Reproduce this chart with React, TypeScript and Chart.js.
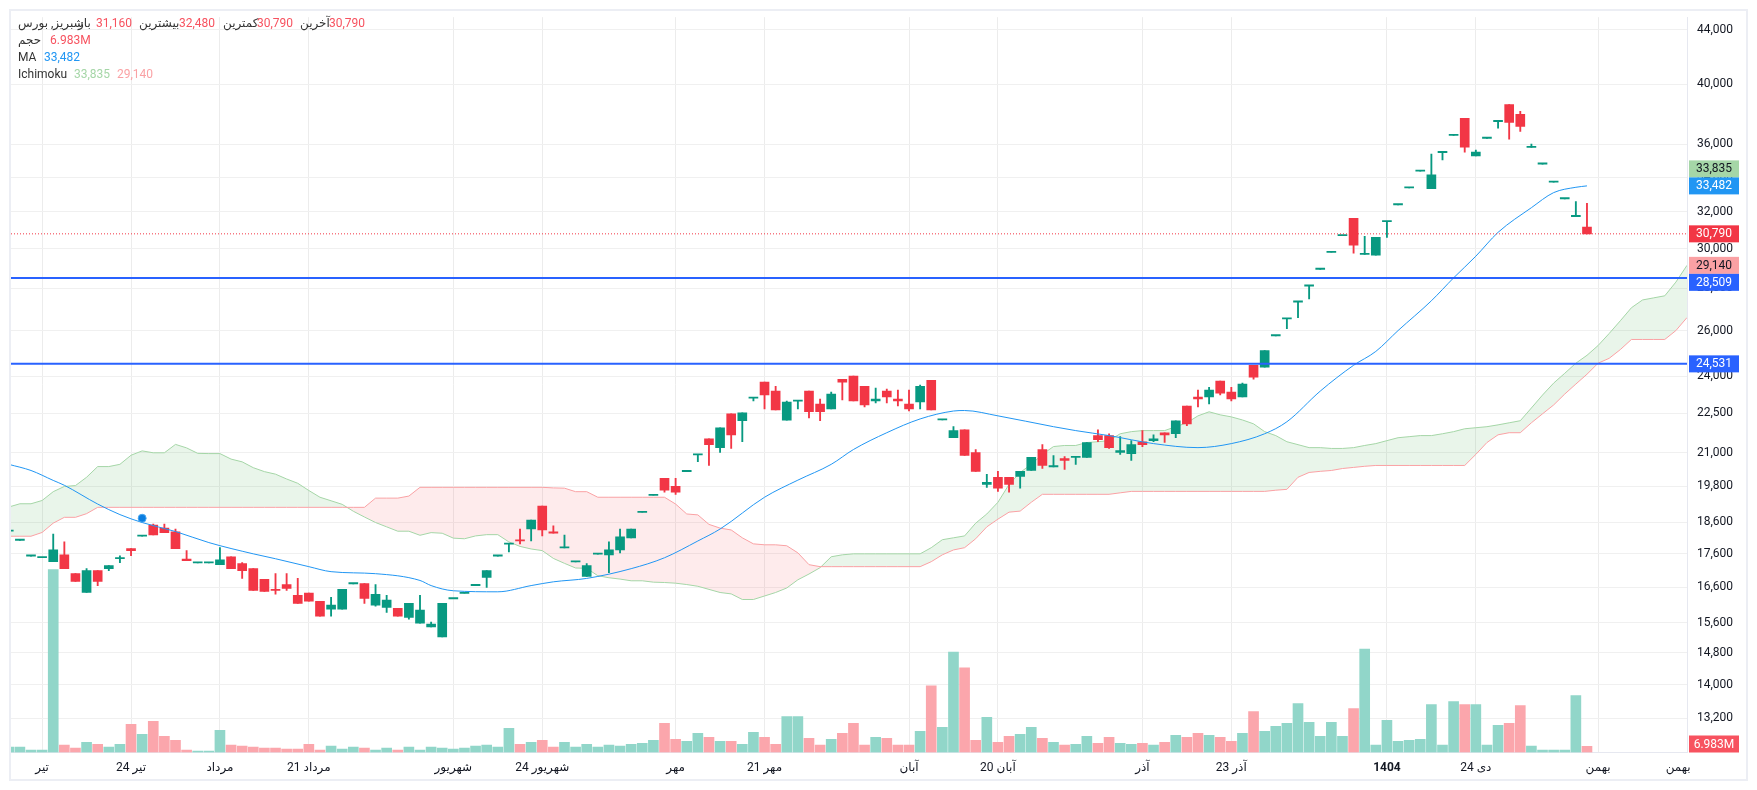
import React, { useEffect, useRef } from "react";
import { Chart, registerables } from "chart.js";

Chart.register(...registerables);

const opens = [
  18310, 18020, 17530, 17480, 17360, 17570, 17000, 16450, 17090, 17150,
  17450, 17760, 18150, 18510, 18410, 18290, 17440, 17320, 17320, 17270,
  17510, 17300, 17150, 16830, 16520, 16680, 16370, 16430, 16200, 15980,
  15980, 16700, 16710, 16090, 16030, 16000, 15750, 15590, 15490, 15220,
  16270, 16420, 16650, 16890, 17530, 17900, 18010, 18380, 19130, 18260,
  17780, 17350, 16920, 17590, 17570, 17720, 18100, 18920, 19490, 20080,
  19800, 20320, 20920, 21520, 21190, 22480, 22210, 23100, 23760, 23390,
  22230, 22980, 23390, 22870, 22670, 23880, 24010, 23590, 22990, 23390,
  23070, 22870, 22950, 23840, 22240, 21560, 21860, 21010, 19870, 20120,
  20120, 20150, 20360, 21120, 20490, 20790, 20830, 20830, 21640, 21640,
  21010, 20970, 21410, 21450, 21750, 21710, 22790, 23150, 23150, 23800,
  23350, 23150, 24470, 24390, 25760, 26530, 27330, 28100, 28940, 29800,
  30690, 31630, 29700, 29660, 31450, 32390, 33360, 34350, 33320, 35480,
  36570, 37680, 35280, 36380, 37460, 38600, 37940, 35810, 34780, 33700,
  32730, 31730, 31160,
];
const highs = [
  18310, 18020, 17530, 17480, 18220, 17970, 17000, 17150, 17090, 17240,
  17540, 17760, 18150, 18540, 18540, 18380, 17700, 17320, 17320, 17790,
  17510, 17330, 17150, 16830, 17000, 17000, 16860, 16430, 16200, 16310,
  16540, 16700, 16710, 16680, 16370, 16000, 16140, 16370, 15620, 16140,
  16270, 16420, 16650, 17090, 17530, 17900, 18380, 18670, 19130, 18480,
  18190, 17350, 17300, 17590, 17970, 18380, 18380, 18920, 19490, 20080,
  20080, 20320, 20920, 21520, 21940, 22480, 22520, 23100, 23760, 23590,
  22990, 22980, 23390, 23070, 23350, 23880, 24010, 23590, 23510, 23470,
  23430, 23430, 23640, 23840, 22240, 21980, 21860, 21120, 20220, 20330,
  20120, 20330, 20830, 21300, 20900, 20860, 20830, 21380, 21860, 21710,
  21600, 21450, 21830, 21670, 21750, 22210, 22790, 23430, 23550, 23800,
  23550, 23720, 24470, 25110, 25760, 26530, 27330, 28100, 28940, 29800,
  30690, 31630, 30660, 30600, 31450, 32390, 33360, 34350, 35400, 35570,
  36570, 37680, 35650, 36380, 37460, 38600, 38140, 36020, 34780, 33700,
  32730, 32570, 32480,
];
const lows = [
  18310, 18020, 17530, 17480, 17360, 17150, 16770, 16450, 16650, 17090,
  17330, 17540, 18150, 18190, 18260, 17760, 17390, 17320, 17320, 17270,
  17150, 16860, 16510, 16480, 16400, 16510, 16140, 16200, 15780, 15780,
  15980, 16700, 16140, 16060, 15890, 15780, 15700, 15590, 15490, 15220,
  16270, 16420, 16650, 16600, 17530, 17660, 17910, 18000, 18160, 18250,
  17780, 17350, 16920, 17590, 17030, 17630, 18100, 18920, 19490, 19600,
  19530, 20320, 20680, 20540, 21010, 21160, 21410, 22990, 22670, 22630,
  22230, 22670, 22320, 22210, 22670, 23030, 22990, 22750, 22910, 22910,
  22790, 22590, 22670, 22630, 22240, 21560, 20900, 20330, 19770, 19630,
  19600, 19740, 20360, 20430, 20490, 20400, 20580, 20830, 21410, 21160,
  20940, 20720, 21230, 21410, 21380, 21560, 22020, 22750, 22870, 23230,
  22990, 23150, 23880, 24390, 25760, 26090, 26590, 27480, 28940, 29800,
  30690, 29770, 29700, 29660, 30600, 32390, 33360, 34350, 33320, 35030,
  36570, 35520, 35280, 36380, 37030, 36330, 36830, 35810, 34780, 33700,
  32730, 31730, 30790,
];
const closes = [
  18310, 18020, 17530, 17480, 17720, 17150, 16770, 17090, 16770, 17240,
  17450, 17700, 18150, 18190, 18260, 17760, 17390, 17320, 17320, 17420,
  17150, 17090, 16510, 16480, 16510, 16570, 16140, 16200, 15780, 16090,
  16540, 16700, 16280, 16400, 16230, 15780, 16140, 15950, 15570, 16140,
  16270, 16420, 16650, 17090, 17530, 17900, 18000, 18670, 18350, 18250,
  17780, 17350, 17240, 17590, 17720, 18130, 18380, 18920, 19490, 19670,
  19600, 20320, 20920, 21300, 21940, 21670, 22520, 23100, 23230, 22630,
  22950, 22980, 22560, 22560, 23270, 23760, 22990, 22830, 23070, 23150,
  22990, 22670, 23590, 22630, 22240, 21830, 20900, 20330, 19940, 19740,
  19870, 20330, 20830, 20540, 20490, 20720, 20830, 21380, 21490, 21190,
  21080, 21300, 21300, 21520, 21670, 22210, 22090, 23070, 23430, 23310,
  23070, 23680, 23970, 25110, 25760, 26530, 27330, 28100, 28940, 29800,
  30690, 30180, 29700, 30600, 31450, 32390, 33360, 34350, 34130, 35570,
  36570, 35830, 35520, 36380, 37460, 37410, 37150, 35810, 34780, 33700,
  32730, 31730, 30790,
];
const volumes = [
  5.9, 5.9, 2.6, 2.6, 203, 8.1, 4.8, 11.4, 9.2, 5.9,
  9.2, 31.2, 20.2, 34.5, 18.0, 13.6, 2.6, 1.5, 1.5, 24.6,
  8.1, 7.0, 5.9, 4.8, 4.8, 3.7, 3.7, 9.2, 2.6, 7.0,
  3.7, 5.9, 4.8, 2.6, 4.8, 2.6, 5.9, 2.6, 5.9, 4.8,
  3.7, 4.8, 7.0, 8.1, 5.9, 26.8, 9.2, 11.4, 13.6, 5.9,
  11.4, 5.9, 9.2, 5.9, 8.1, 7.0, 9.2, 10.3, 13.6, 32.3,
  14.7, 12.5, 21.3, 16.9, 12.5, 12.5, 9.2, 22.4, 16.9, 9.2,
  40.0, 40.0, 15.8, 8.1, 14.7, 21.3, 32.3, 8.1, 16.9, 15.8,
  8.1, 8.1, 23.5, 74.1, 27.9, 111.5, 93.9, 13.6, 38.9, 11.4,
  18.0, 20.2, 27.9, 15.8, 11.4, 8.1, 9.2, 18.0, 10.3, 16.9,
  10.3, 9.2, 10.3, 8.1, 11.4, 19.1, 16.9, 21.3, 19.1, 16.9,
  12.5, 21.3, 45.5, 23.5, 29.0, 32.3, 54.3, 33.4, 18.0, 33.4,
  18.0, 48.8, 114.8, 8.1, 35.6, 12.5, 13.6, 14.7, 53.2, 8.1,
  56.5, 53.2, 53.2, 8.1, 30.1, 32.3, 52.1, 7.0, 2.6, 2.6,
  2.6, 63.1, 6.983,
];
const spanA = [
  19100, 19210, 19210, 19320, 19620, 19800, 19830, 20120, 20500, 20500,
  20580, 20910, 21070, 21000, 21000, 21310, 21180, 20980, 20970, 20970,
  20770, 20670, 20460, 20320, 20230, 20060, 19910, 19660, 19430, 19310,
  19190, 18960, 18770, 18590, 18450, 18310, 18310, 18180, 18265, 18245,
  18090, 18070, 18160, 18200, 18200, 17970, 17830, 17750, 17700, 17460,
  17310, 17170, 17160, 16940, 16880, 16840, 16790, 16790, 16750, 16740,
  16720, 16680, 16630, 16540, 16450, 16410, 16250, 16250, 16350, 16450,
  16580, 16820, 16990, 17180, 17510, 17570, 17600, 17600, 17600, 17600,
  17600, 17600, 17600, 17790, 18040, 18100, 18160, 18570, 18870, 19260,
  19870, 20290, 20580, 20940, 21230, 21270, 21270, 21380, 21410, 21450,
  21710, 21790, 21830, 21830, 21830, 21980, 22130, 22400, 22560, 22440,
  22360, 22240, 22090, 21790, 21640, 21410, 21300, 21190, 21190, 21160,
  21160, 21190, 21270, 21340, 21450, 21560, 21600, 21640, 21640, 21710,
  21790, 21900, 21940, 21980, 22050, 22130, 22210, 22710, 23230, 23720,
  24130, 24560, 24900, 25330, 25870, 26450, 27060, 27430, 27530, 27630,
  28300, 29140,
];
const spanB = [
  18150, 18150, 18150, 18270, 18570, 18760, 18760, 18880, 19090, 19090,
  19090, 19090, 19090, 19090, 19090, 19090, 19090, 19090, 19090, 19090,
  19090, 19090, 19090, 19090, 19090, 19090, 19090, 19090, 19090, 19090,
  19090, 19090, 19090, 19400, 19400, 19400, 19470, 19770, 19770, 19770,
  19770, 19770, 19770, 19770, 19770, 19770, 19770, 19770, 19770, 19750,
  19740, 19620, 19620, 19430, 19430, 19430, 19430, 19430, 19430, 19430,
  19200, 18870, 18840, 18530, 18410, 18350, 18100, 17910, 17880, 17880,
  17850, 17630, 17270, 17210, 17210, 17210, 17210, 17210, 17210, 17210,
  17210, 17210, 17210, 17360, 17570, 17720, 17790, 18070, 18450, 18700,
  18930, 18965, 19260, 19530, 19530, 19530, 19530, 19530, 19530, 19530,
  19580, 19630, 19630, 19630, 19630, 19630, 19630, 19630, 19630, 19630,
  19630, 19630, 19630, 19630, 19670, 19700, 20120, 20290, 20330, 20360,
  20430, 20470, 20510, 20540, 20540, 20540, 20540, 20540, 20540, 20540,
  20540, 20540, 20940, 21380, 21670, 21750, 21750, 22130, 22480, 22830,
  23270, 23680, 24090, 24560, 24770, 25150, 25600, 25600, 25600, 25600,
  26000, 26600,
];
const maIndex = [
  0, 2, 4, 5, 8, 10, 12, 15, 18, 22, 24, 27, 29, 33, 37, 38, 40, 44, 47, 49, 52, 56, 59, 62, 64,
  68, 71, 74, 76, 79, 82, 85, 86, 89, 94, 96, 99, 103, 107, 110, 113, 115, 118, 121, 123, 125,
  128, 130, 132, 134, 137, 139, 141, 142,
];
const maValues = [
  20580, 20360, 20010, 19840, 19200, 18850, 18590, 18300, 17950, 17600, 17450, 17210, 17060,
  17000, 16800, 16650, 16500, 16470, 16650, 16760, 16860, 17150, 17480, 18000, 18380, 19430,
  20020, 20580, 21120, 21750, 22280, 22590, 22610, 22400, 21980, 21830, 21640, 21340, 21190,
  21340, 21710, 22170, 23390, 24470, 25070, 26000, 27390, 28510, 29610, 30870, 32230, 33090,
  33400, 33482,
];
const priceTicks = [
  44000, 40000, 36000, 34000, 32000, 30000, 28000, 26000, 24000, 22500, 21000, 19800, 18600,
  17600, 16600, 15600, 14800, 14000, 13200,
];
const timeTickIndex = [3, 11, 19, 27, 40, 48, 60, 68, 81, 89, 102, 110, 124, 132, 143, 150.2];
const timeTickLabels = [
  "تیر", "24 تیر", "مرداد", "21 مرداد", "شهریور", "24 شهریور", "مهر", "21 مهر",
  "آبان", "20 آبان", "آذر", "23 آذر", "1404", "24 دی", "بهمن", "بهمن",
];
const levelLines = [28509, 24531];
const lastClose = 30790;
const markerIndex = [12];
const markerValue = [18730];
const lastVolumeLabel = "6.983M";
const lastVolume = 6.983;

const UP = "#089981";
const DOWN = "#f23645";
const UP_SOFT = "#91d6c9";
const DOWN_SOFT = "#fba6ac";
const GREEN_LINE = "#a5d6a7";
const RED_LINE = "#faa1a4";
const BLUE = "#2196f3";
const LEVEL = "#2962ff";
const INK = "#131722";
const FONT = "Roboto, 'Noto Sans', 'DejaVu Sans', sans-serif";

const fmt = (v: number) => v.toLocaleString("en-US");

const overlay = {
  id: "overlay",
  afterDraw(chart: any) {
    const { ctx, chartArea } = chart;
    const y = chart.scales.y;
    const yVol = chart.scales.yVol;
    ctx.save();

    // frame
    ctx.strokeStyle = "#eceef4";
    ctx.lineWidth = 2;
    ctx.strokeRect(10, 10, 1737, 770);

    // price tags
    const tagH = 17;
    const tag = (cy: number, bg: string, fg: string, text: string) => {
      ctx.fillStyle = bg;
      ctx.fillRect(1689, cy - tagH / 2, 50, tagH);
      ctx.fillStyle = fg;
      ctx.font = `12px ${FONT}`;
      ctx.textAlign = "center";
      ctx.textBaseline = "middle";
      ctx.fillText(text, 1714, cy + 0.5);
    };
    const maLast = maValues[maValues.length - 1];
    const aLast = spanA[spanA.length - 1];
    const yMa = y.getPixelForValue(maLast);
    const yA = y.getPixelForValue(aLast);
    tag(Math.min(y.getPixelForValue(33835), yMa - tagH), GREEN_LINE, INK, "33,835");
    tag(yMa, BLUE, "#ffffff", fmt(maLast));
    tag(y.getPixelForValue(lastClose), DOWN, "#ffffff", fmt(lastClose));
    tag(yA, RED_LINE, INK, fmt(aLast));
    tag(Math.max(y.getPixelForValue(levelLines[0]), yA + tagH), LEVEL, "#ffffff", fmt(levelLines[0]));
    tag(y.getPixelForValue(levelLines[1]), LEVEL, "#ffffff", fmt(levelLines[1]));
    tag(Math.min(yVol.getPixelForValue(lastVolume), chartArea.bottom - tagH / 2), "#f7525f", "#ffffff", lastVolumeLabel);

    // legend
    ctx.font = `12px ${FONT}`;
    ctx.textAlign = "left";
    ctx.textBaseline = "middle";
    const put = (text: string, x: number, cy: number, color: string) => {
      ctx.fillStyle = color;
      ctx.fillText(text, x, cy);
    };
    const lab = "#333333";
    const val = "#f7525f";
    put("شبریز, بورس", 18, 24, lab);
    put("باز", 78, 24, lab);
    put("31,160", 96, 24, val);
    put("بیشترین", 139, 24, lab);
    put("32,480", 179, 24, val);
    put("کمترین", 223, 24, lab);
    put("30,790", 257, 24, val);
    put("آخرین", 300, 24, lab);
    put("30,790", 329, 24, val);
    put("حجم", 18, 41, lab);
    put(lastVolumeLabel, 50, 41, val);
    put("MA", 18, 58, lab);
    put(fmt(maLast), 44, 58, BLUE);
    put("Ichimoku", 18, 74.5, lab);
    put("33,835", 74, 74.5, GREEN_LINE);
    put(fmt(aLast), 117, 74.5, RED_LINE);
    ctx.restore();
  },
};

export default function App() {
  const ref = useRef<HTMLCanvasElement | null>(null);

  useEffect(() => {
    if (!ref.current) return;
    const idx = opens.map((_, i) => i);
    const isUp = closes.map((c, i) => c >= opens[i]);
    const xMin = 0.2;
    const xMax = 151;
    const flat = (v: number) => [
      { x: xMin, y: v },
      { x: xMax, y: v },
    ];

    const chart = new Chart(ref.current, {
      type: "bar",
      plugins: [overlay],
      data: {
        datasets: [
          {
            type: "line",
            label: "Ichimoku A",
            data: spanA.map((y, x) => ({ x, y })),
            borderColor: GREEN_LINE,
            borderWidth: 1,
            pointRadius: 0,
            tension: 0,
            fill: { target: "+1", above: "rgba(76,175,80,0.12)", below: "rgba(242,54,69,0.10)" },
            order: 6,
            yAxisID: "y",
            xAxisID: "x",
          },
          {
            type: "line",
            label: "Ichimoku B",
            data: spanB.map((y, x) => ({ x, y })),
            borderColor: RED_LINE,
            borderWidth: 1,
            pointRadius: 0,
            tension: 0,
            fill: false,
            order: 5,
            yAxisID: "y",
            xAxisID: "x",
          },
          {
            label: "Volume",
            data: idx.map((x) => ({ x, y: volumes[x] })),
            backgroundColor: isUp.map((u) => (u ? UP_SOFT : DOWN_SOFT)),
            barThickness: 10,
            grouped: false,
            order: 7,
            yAxisID: "yVol",
            xAxisID: "x",
          },
          {
            label: "Wick",
            data: idx.map((x) => ({ x, y: [lows[x], highs[x]] })),
            backgroundColor: isUp.map((u) => (u ? UP : DOWN)),
            barThickness: 1.2,
            grouped: false,
            order: 4,
            yAxisID: "y",
            xAxisID: "x",
          },
          {
            label: "Body",
            data: idx.map((x) => ({ x, y: [opens[x], closes[x]] })),
            backgroundColor: isUp.map((u) => (u ? UP : DOWN)),
            barThickness: 9,
            minBarLength: 1.2,
            grouped: false,
            order: 3,
            yAxisID: "y",
            xAxisID: "x",
          },
          {
            type: "line",
            label: "MA",
            data: maIndex.map((x, i) => ({ x, y: maValues[i] })),
            borderColor: BLUE,
            borderWidth: 1,
            pointRadius: 0,
            cubicInterpolationMode: "monotone",
            fill: false,
            order: 2,
            yAxisID: "y",
            xAxisID: "x",
          },
          {
            type: "line",
            label: "Last",
            data: flat(lastClose),
            borderColor: DOWN,
            borderWidth: 1,
            borderDash: [1, 2],
            pointRadius: 0,
            fill: false,
            order: 1,
            yAxisID: "y",
            xAxisID: "x",
          },
          ...levelLines.map((v) => ({
            type: "line" as const,
            label: "Level " + v,
            data: flat(v),
            borderColor: LEVEL,
            borderWidth: 2,
            pointRadius: 0,
            fill: false,
            order: 1,
            yAxisID: "y",
            xAxisID: "x",
          })),
          {
            type: "line",
            label: "Marker",
            data: markerIndex.map((x, i) => ({ x, y: markerValue[i] })),
            showLine: false,
            pointRadius: 4,
            pointBackgroundColor: "#0a7de0",
            pointBorderColor: "#4aa8f0",
            pointBorderWidth: 1,
            order: 0,
            yAxisID: "y",
            xAxisID: "x",
          },
        ] as any,
      },
      options: {
        animation: false,
        responsive: false,
        devicePixelRatio: 1,
        layout: { padding: { top: 11, left: 11, right: 14, bottom: 10.5 } },
        events: [],
        plugins: {
          legend: { display: false },
          title: { display: false },
          tooltip: { enabled: false },
        },
        scales: {
          x: {
            type: "linear",
            min: xMin,
            max: xMax,
            offset: false,
            afterFit: (s: any) => {
              s.height = 27;
            },
            afterBuildTicks: (s: any) => {
              s.ticks = timeTickIndex.map((value) => ({ value }));
            },
            grid: {
              offset: false,
              drawTicks: false,
              color: (c: any) =>
                c.tick && c.tick.value === timeTickIndex[timeTickIndex.length - 1]
                  ? "rgba(0,0,0,0)"
                  : "#ececec",
            },
            border: { display: true, color: "#e6e8f0", width: 1 },
            ticks: {
              autoSkip: false,
              maxRotation: 0,
              minRotation: 0,
              padding: 8,
              color: INK,
              font: (c: any) => ({
                family: FONT,
                size: 12,
                weight: c.tick && timeTickLabels[timeTickIndex.indexOf(c.tick.value)] === "1404" ? "bold" : "normal",
              }),
              callback: (v: any) => timeTickLabels[timeTickIndex.indexOf(Number(v))],
            },
          },
          y: {
            type: "logarithmic",
            position: "right",
            min: 12437,
            max: 44963,
            afterFit: (s: any) => {
              s.width = 56;
            },
            afterBuildTicks: (s: any) => {
              s.ticks = priceTicks.map((value) => ({ value }));
            },
            grid: { drawTicks: false, color: "#f0f0f0" },
            border: { display: true, color: "#e6e8f0", width: 1 },
            ticks: {
              autoSkip: false,
              padding: 10,
              crossAlign: "center",
              color: INK,
              font: { family: FONT, size: 12 },
              callback: (v: any) => fmt(Number(v)),
            },
          },
          yVol: {
            type: "linear",
            display: false,
            min: 0,
            max: 816,
            grid: { display: false },
          },
        },
      } as any,
    });
    return () => chart.destroy();
  }, []);

  return (
    <div style={{ position: "fixed", left: 0, top: 0, width: 1757, height: 790, background: "#ffffff" }}>
      <canvas ref={ref} width={1757} height={790} style={{ display: "block", width: 1757, height: 790 }} />
    </div>
  );
}
